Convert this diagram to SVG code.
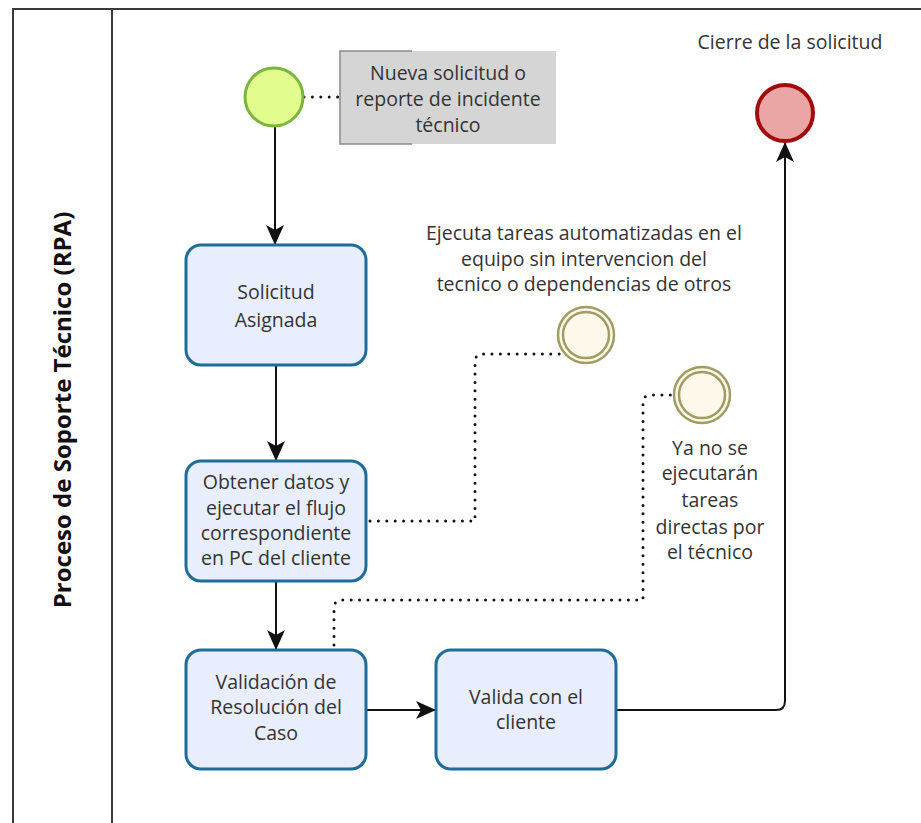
<svg xmlns="http://www.w3.org/2000/svg" width="921" height="823" viewBox="0 0 921 823">
  <style>
    .lbl { font-family: "Open Sans", "Noto Sans", "DejaVu Sans", sans-serif; font-size: 19.5px; fill: #333333; text-anchor: middle; }
    .lane { font-family: "Open Sans", "Noto Sans", sans-serif; font-size: 24px; font-weight: bold; fill: #111111; text-anchor: middle; }
    .task { fill: #e8eefd; stroke: #1e6c98; stroke-width: 3; }
    .flow { fill: none; stroke: #111111; stroke-width: 2; }
    .assoc { fill: none; stroke: #111111; stroke-width: 3; stroke-dasharray: 0 8.4; stroke-linecap: round; }
    .inter { fill: #fdf8ea; stroke: #a09c62; stroke-width: 2.5; }
  </style>
  <defs>
    <marker id="arrow" viewBox="0 0 20 20" refX="19" refY="10" markerWidth="20" markerHeight="20" markerUnits="userSpaceOnUse" orient="auto">
      <path d="M0,1 L20,10 L0,19 L5,10 Z" fill="#111111"/>
    </marker>
  </defs>

  <rect width="921" height="823" fill="#ffffff"/>

  <!-- pool and lane frame -->
  <g id="pool">
    <path d="M13,823 V9 H921" fill="none" stroke="#3a3a3a" stroke-width="2"/>
    <line x1="112" y1="9" x2="112" y2="823" stroke="#3a3a3a" stroke-width="2"/>
    <text class="lane" transform="translate(71,410) rotate(-90)">Proceso de Soporte Técnico (RPA)</text>
  </g>

  <!-- connectors -->
  <g id="connectors">
    <path class="flow" d="M275,127 V244" marker-end="url(#arrow)"/>
    <path class="flow" d="M276,366 V460" marker-end="url(#arrow)"/>
    <path class="flow" d="M276,582 V649" marker-end="url(#arrow)"/>
    <path class="flow" d="M367,710 H435" marker-end="url(#arrow)"/>
    <path class="flow" d="M617,710 H776 Q785,710 785,701 V143" marker-end="url(#arrow)"/>
    <path class="assoc" d="M304,97 H340"/>
    <path class="assoc" d="M370,521 H475 V362 Q475,354 483,354 H562"/>
    <path class="assoc" d="M334,645 V608 Q334,600 342,600 H643 V403 Q643,395 651,395 H700"/>
  </g>

  <g id="start">
    <circle cx="274" cy="97" r="29" fill="#e2fc8e" stroke="#7ab53f" stroke-width="3"/>
  </g>

  <g id="annotation">
    <rect x="340" y="51" width="216" height="93" fill="#d5d5d5"/>
    <path d="M412,51 H340 V144 H412" fill="none" stroke="#8a8a8a" stroke-width="1.5"/>
    <text class="lbl" x="448" y="80">Nueva solicitud o</text>
    <text class="lbl" x="448" y="106">reporte de incidente</text>
    <text class="lbl" x="448" y="132">técnico</text>
  </g>

  <g id="end">
    <circle cx="785" cy="113" r="28" fill="#eba5a5" stroke="#a00d0d" stroke-width="4"/>
    <text class="lbl" x="790" y="49">Cierre de la solicitud</text>
  </g>

  <g id="task-asignada">
    <rect class="task" x="186" y="245" width="180" height="120" rx="15"/>
    <text class="lbl" x="276" y="299">Solicitud</text>
    <text class="lbl" x="276" y="327">Asignada</text>
  </g>

  <g id="task-obtener">
    <rect class="task" x="186" y="461" width="180" height="120" rx="15"/>
    <text class="lbl" x="276" y="489">Obtener datos y</text>
    <text class="lbl" x="276" y="515">ejecutar el flujo</text>
    <text class="lbl" x="276" y="540">correspondiente</text>
    <text class="lbl" x="276" y="565">en PC del cliente</text>
  </g>

  <g id="task-validacion">
    <rect class="task" x="186" y="650" width="180" height="119" rx="15"/>
    <text class="lbl" x="276" y="689">Validación de</text>
    <text class="lbl" x="276" y="714">Resolución del</text>
    <text class="lbl" x="276" y="740">Caso</text>
  </g>

  <g id="task-valida-cliente">
    <rect class="task" x="436" y="650" width="180" height="119" rx="15"/>
    <text class="lbl" x="526" y="704">Valida con el</text>
    <text class="lbl" x="526" y="729">cliente</text>
  </g>

  <g id="event-automatizadas">
    <circle class="inter" cx="586" cy="335" r="28"/>
    <circle class="inter" cx="586" cy="335" r="23"/>
    <text class="lbl" x="584" y="240">Ejecuta tareas automatizadas en el</text>
    <text class="lbl" x="584" y="266">equipo sin intervencion del</text>
    <text class="lbl" x="584" y="291">tecnico o dependencias de otros</text>
  </g>

  <g id="event-directas">
    <circle class="inter" cx="702" cy="395" r="28"/>
    <circle class="inter" cx="702" cy="395" r="23"/>
    <text class="lbl" x="710" y="455">Ya no se</text>
    <text class="lbl" x="710" y="480">ejecutarán</text>
    <text class="lbl" x="710" y="507">tareas</text>
    <text class="lbl" x="710" y="534">directas por</text>
    <text class="lbl" x="710" y="559">el técnico</text>
  </g>
</svg>
